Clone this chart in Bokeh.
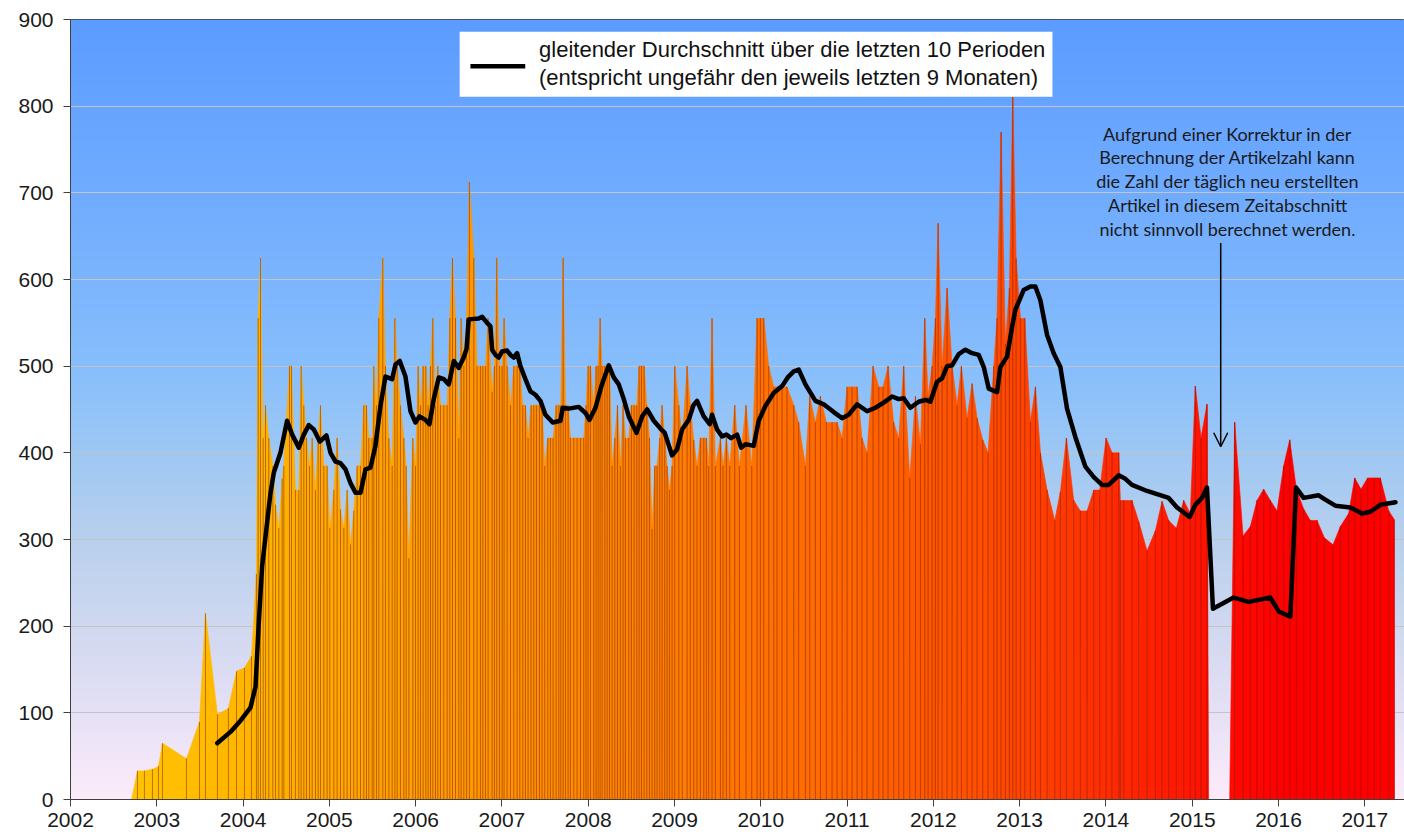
import numpy as np
from bokeh.plotting import figure
from bokeh.models import ColumnDataSource, FixedTicker, Arrow, OpenHead
from bokeh.core.properties import value
from bokeh.embed import file_html
from bokeh.resources import INLINE

# ---------------- data ----------------
# dates as decimal years, values = new articles per day
dates = [
    2002.707, 2002.776, 2002.857, 2002.950, 2003.020, 2003.066, 2003.344, 2003.495, 2003.564, 2003.703,
    2003.830, 2003.924, 2004.016, 2004.097, 2004.155,
    2004.175, 2004.202, 2004.233, 2004.260, 2004.298, 2004.345, 2004.376, 2004.414, 2004.453, 2004.472,
    2004.538, 2004.561, 2004.607, 2004.646, 2004.673, 2004.704, 2004.735, 2004.770, 2004.801, 2004.839,
    2004.870, 2004.897, 2004.936, 2004.974, 2005.005, 2005.052, 2005.090, 2005.129, 2005.168, 2005.206,
    2005.245, 2005.283, 2005.322, 2005.361, 2005.399, 2005.430, 2005.457, 2005.496, 2005.515, 2005.546,
    2005.573, 2005.619, 2005.650, 2005.689, 2005.728, 2005.759, 2005.786, 2005.824, 2005.863, 2005.890,
    2005.921, 2005.967, 2005.998, 2006.029, 2006.056, 2006.087, 2006.118, 2006.145, 2006.172, 2006.199,
    2006.230, 2006.257, 2006.288, 2006.326, 2006.365, 2006.396, 2006.427, 2006.462, 2006.500, 2006.527,
    2006.558, 2006.590,
    2006.623, 2006.674, 2006.712, 2006.751, 2006.778, 2006.809, 2006.840, 2006.886, 2006.913, 2006.940,
    2006.971, 2007.002, 2007.025, 2007.060, 2007.099, 2007.137, 2007.176, 2007.207, 2007.241, 2007.272,
    2007.303, 2007.338, 2007.369, 2007.400, 2007.435, 2007.465, 2007.496, 2007.531, 2007.562, 2007.593,
    2007.628, 2007.659, 2007.682, 2007.709, 2007.736, 2007.767, 2007.794, 2007.833, 2007.871, 2007.910,
    2007.948, 2007.975, 2007.999, 2008.026, 2008.064, 2008.091, 2008.115, 2008.138, 2008.161, 2008.192,
    2008.219, 2008.246, 2008.277, 2008.308, 2008.339, 2008.373, 2008.404, 2008.431, 2008.470, 2008.501,
    2008.532, 2008.563, 2008.590, 2008.617, 2008.648, 2008.679, 2008.709, 2008.740, 2008.771, 2008.798,
    2008.829, 2008.856, 2008.887, 2008.914, 2008.941, 2008.972, 2009.003, 2009.050, 2009.090, 2009.146,
    2009.184, 2009.223, 2009.261, 2009.300, 2009.339, 2009.369, 2009.396, 2009.435, 2009.474, 2009.532,
    2009.563, 2009.601, 2009.640, 2009.698, 2009.752, 2009.829, 2009.895, 2009.957, 2009.995, 2010.034,
    2010.092, 2010.150, 2010.188, 2010.246, 2010.304, 2010.382, 2010.439, 2010.517, 2010.567, 2010.633,
    2010.691, 2010.760, 2010.826, 2010.884, 2010.942, 2011.000, 2011.058, 2011.116, 2011.173, 2011.231,
    2011.301, 2011.367, 2011.417, 2011.475, 2011.540, 2011.598, 2011.656, 2011.726, 2011.792,
    2011.850, 2011.900, 2011.939, 2011.985, 2012.024, 2012.055, 2012.101, 2012.159, 2012.217, 2012.275,
    2012.325, 2012.391, 2012.449, 2012.507, 2012.572, 2012.634, 2012.700, 2012.738, 2012.785, 2012.835,
    2012.881, 2012.920, 2012.959, 2013.009, 2013.059, 2013.125, 2013.183, 2013.241, 2013.318, 2013.407,
    2013.472, 2013.542, 2013.627, 2013.704, 2013.781, 2013.859, 2013.928, 2014.002, 2014.071, 2014.148,
    2014.167, 2014.206, 2014.302, 2014.379, 2014.476, 2014.573, 2014.650, 2014.727, 2014.816, 2014.901,
    2014.978, 2015.036, 2015.102, 2015.171, 2015.190, 2015.434, 2015.492, 2015.589, 2015.674, 2015.751,
    2015.828, 2015.905, 2015.983, 2016.060, 2016.130, 2016.207, 2016.292, 2016.369, 2016.446, 2016.531,
    2016.632, 2016.717, 2016.813, 2016.883, 2016.956, 2017.033, 2017.111, 2017.180, 2017.277, 2017.342,
]
values = [
    0, 33, 33, 35, 38, 65, 47, 90, 215, 98,
    105, 148, 152, 165, 260,
    555, 625, 417, 455, 417, 385, 340, 313, 370, 385,
    500, 500, 357, 357, 500, 455, 417, 385, 417, 357,
    417, 455, 385, 385, 313, 357, 417, 335, 313, 357,
    294, 333, 385, 385, 455, 455, 417, 417, 500, 455,
    555, 625, 500, 417, 385, 555, 500, 455, 417, 385,
    278, 417, 385, 500, 455, 500, 500, 455, 500, 555,
    455, 500, 455, 455, 455, 555, 625, 555, 417, 555,
    500, 555,
    713, 625, 500, 500, 500, 500, 555, 470, 500, 625,
    500, 500, 555, 500, 455, 500, 500, 500, 455, 455,
    417, 455, 455, 455, 455, 455, 385, 417, 417, 417,
    455, 455, 455, 625, 455, 455, 417, 417, 417, 417,
    417, 455, 500, 500, 455, 500, 500, 555, 500, 500,
    500, 500, 385, 417, 455, 385, 455, 417, 417, 455,
    455, 455, 500, 500, 500, 455, 417, 312, 385, 385,
    417, 455, 417, 385, 357, 385, 500, 455, 417, 500,
    455, 415, 385, 417, 417, 417, 385, 555, 385, 417,
    385, 417, 385, 455, 385, 455, 385, 555, 555, 555,
    500, 476, 476, 476, 476, 455, 435, 385, 465, 435,
    465, 435, 435, 435, 417, 476, 476, 476, 417, 400,
    500, 476, 476, 500, 435, 417, 500, 371, 465,
    410, 555, 465, 500, 555, 665, 500, 590, 500, 455,
    500, 440, 480, 440, 415, 400, 500, 555, 770, 526,
    590, 811, 624, 555, 555, 436, 476, 400, 357, 322,
    355, 417, 345, 333, 333, 357, 357, 417, 400, 400,
    345, 345, 345, 321, 287, 310, 344, 322, 313, 345,
    330, 477, 417, 456, 0, 0, 435, 304, 315, 345,
    358, 345, 333, 385, 415, 358, 335, 322, 322, 302,
    294, 315, 330, 371, 358, 371, 371, 371, 333, 323,
]

# moving average over the last 10 periods
ma_dates = [
    2003.700, 2003.854, 2003.970, 2004.086, 2004.144, 2004.180, 2004.221, 2004.317, 2004.356, 2004.433,
    2004.510, 2004.569, 2004.646, 2004.704, 2004.762, 2004.820, 2004.889, 2004.966, 2005.013, 2005.071,
    2005.129, 2005.187, 2005.245, 2005.303, 2005.361, 2005.419, 2005.477, 2005.534, 2005.592, 2005.650,
    2005.727, 2005.766, 2005.816, 2005.882, 2005.940, 2005.998, 2006.044, 2006.114, 2006.160, 2006.210,
    2006.268, 2006.326, 2006.384, 2006.442, 2006.500, 2006.557, 2006.590, 2006.615, 2006.731, 2006.770,
    2006.828, 2006.867, 2006.886, 2006.925, 2006.963, 2007.002, 2007.060, 2007.099, 2007.137, 2007.176,
    2007.214, 2007.272, 2007.330, 2007.388, 2007.446, 2007.504, 2007.589, 2007.678, 2007.705, 2007.774,
    2007.890, 2007.968, 2008.014, 2008.084, 2008.153, 2008.238, 2008.296, 2008.354, 2008.412, 2008.470,
    2008.559, 2008.625, 2008.683, 2008.760, 2008.837, 2008.887, 2008.972, 2009.030, 2009.088, 2009.165,
    2009.220, 2009.261, 2009.339, 2009.408, 2009.435, 2009.493, 2009.551, 2009.601, 2009.656, 2009.725,
    2009.772, 2009.822, 2009.918, 2009.976, 2010.053, 2010.150, 2010.247, 2010.312, 2010.382, 2010.440,
    2010.517, 2010.633, 2010.729, 2010.845, 2010.942, 2011.019, 2011.116, 2011.232, 2011.328, 2011.424,
    2011.521, 2011.598, 2011.656, 2011.733, 2011.830, 2011.907, 2011.965, 2012.043, 2012.101, 2012.159,
    2012.217, 2012.294, 2012.371, 2012.449, 2012.526, 2012.584, 2012.642, 2012.738, 2012.777, 2012.854,
    2012.912, 2012.950, 2013.047, 2013.124, 2013.182, 2013.240, 2013.318, 2013.394, 2013.472, 2013.549,
    2013.646, 2013.762, 2013.859, 2013.955, 2014.032, 2014.148, 2014.225, 2014.302, 2014.476, 2014.727,
    2014.824, 2014.970, 2015.036, 2015.113, 2015.171, 2015.240, 2015.480, 2015.654, 2015.905, 2016.002,
    2016.137, 2016.203, 2016.291, 2016.465, 2016.542, 2016.658, 2016.832, 2016.968, 2017.064, 2017.180,
    2017.355,
]
ma_values = [
    65, 78, 91, 106, 130, 200, 269, 353, 377, 400,
    437, 421, 406, 421, 432, 427, 413, 420, 400, 390,
    388, 381, 365, 354, 354, 381, 383, 408, 454, 488,
    485, 502, 506, 488, 448, 435, 442, 438, 433, 462,
    487, 485, 479, 506, 498, 510, 520, 554, 555, 557,
    550, 546, 519, 513, 510, 517, 518, 513, 510, 515,
    500, 485, 471, 467, 460, 444, 435, 437, 452, 451,
    453, 446, 438, 452, 477, 501, 487, 479, 462, 442,
    423, 442, 450, 437, 428, 423, 397, 404, 427, 438,
    455, 460, 442, 433, 444, 427, 419, 421, 417, 421,
    406, 410, 408, 437, 454, 469, 477, 487, 494, 496,
    479, 460, 456, 447, 440, 444, 456, 448, 452, 458,
    465, 462, 463, 452, 459, 461, 459, 482, 486, 500,
    501, 514, 519, 515, 513, 499, 474, 470, 499, 511,
    545, 565, 588, 592, 592, 576, 536, 515, 499, 451,
    418, 384, 372, 363, 363, 374, 370, 363, 356, 348,
    337, 326, 340, 348, 360, 220, 233, 228, 233, 217,
    211, 360, 348, 351, 346, 339, 337, 330, 332, 340,
    343,
]

x_ticks = list(range(2002, 2018))
y_ticks = list(range(0, 901, 100))

legend_lines = ["gleitender Durchschnitt über die letzten 10 Perioden",
                "(entspricht ungefähr den jeweils letzten 9 Monaten)"]
note_lines = ["Aufgrund einer Korrektur in der",
              "Berechnung der Artikelzahl kann",
              "die Zahl der täglich neu erstellten",
              "Artikel in diesem Zeitabschnitt",
              "nicht sinnvoll berechnet werden."]

# ---------------- styling constants ----------------
X0, X1 = 2002.0, 2017.46
Y0, Y1 = 0, 900
bg_v = [0, 100, 200, 300, 400, 500, 700, 900]
bg_r = [253, 230, 208, 185, 158, 135, 112, 92]
bg_g = [236, 225, 216, 208, 200, 190, 172, 156]
bg_b = [250, 246, 240, 238, 244, 252, 255, 255]
fill_x = [2002.7, 2004.2, 2005.0, 2007.0, 2009.0, 2011.0, 2012.5, 2014.0, 2015.5, 2016.0]
fill_g = [195, 180, 168, 148, 126, 102, 80, 45, 10, 0]

p = figure(width=1404, height=836, x_range=(X0, X1), y_range=(Y0, Y1),
           output_backend="svg", toolbar_location=None,
           min_border_left=70, min_border_right=0, min_border_top=19, min_border_bottom=37)

# background gradient
ny = 900
yy = np.linspace(Y0, Y1, ny)
img = np.zeros((ny, 1), dtype=np.uint32)
view = img.view(dtype=np.uint8).reshape((ny, 1, 4))
view[:, 0, 0] = np.interp(yy, bg_v, bg_r).astype(np.uint8)
view[:, 0, 1] = np.interp(yy, bg_v, bg_g).astype(np.uint8)
view[:, 0, 2] = np.interp(yy, bg_v, bg_b).astype(np.uint8)
view[:, 0, 3] = 255
p.image_rgba(image=[img], x=X0, y=Y0, dw=X1 - X0, dh=Y1 - Y0, level="image")

# area, coloured along time
xs, ys, cols = [], [], []
for i in range(len(dates) - 1):
    xa, xb = dates[i], dates[i + 1]
    xs.append([xa, xa, xb, xb])
    ys.append([0, values[i], values[i + 1], 0])
    g = int(round(float(np.interp(0.5 * (xa + xb), fill_x, fill_g))))
    cols.append("#%02x%02x%02x" % (255, g, 0))
p.patches(xs, ys, fill_color=cols, line_color=cols, line_width=0.6)

# dotted drop lines at every data point
p.segment(x0=dates, y0=[0] * len(dates), x1=dates, y1=values,
          line_color="#701200", line_alpha=0.9, line_width=1, line_dash="1 1")

# moving average
p.line(ma_dates, ma_values, line_color="black", line_width=4.5,
       line_join="round", line_cap="round")

# legend box (manual)
p.quad(left=[2006.51], right=[2013.38], bottom=[811], top=[886],
       fill_color="white", line_color=None)
p.line([2006.635, 2007.27], [846, 846], line_color="black", line_width=4.5)
leg_src = ColumnDataSource(dict(x=[2007.43, 2007.43], y=[865, 833], t=legend_lines))
p.text(x="x", y="y", text="t", source=leg_src, text_font=value("Liberation Sans"),
       text_font_size="22px", text_baseline="middle", text_align="left", text_color="#111111")

# note text and arrow
note_y0, note_dy = 768.4, 27.4
note_src = ColumnDataSource(dict(x=[2015.41] * len(note_lines),
                                 y=[note_y0 - i * note_dy for i in range(len(note_lines))],
                                 t=note_lines))
p.text(x="x", y="y", text="t", source=note_src, text_font=value("Lato"),
       text_font_size="18px", text_baseline="middle", text_align="center", text_color="#1a1a1a")
p.add_layout(Arrow(end=OpenHead(size=14, line_width=1.5, line_color="black"),
                   x_start=2015.33, y_start=642, x_end=2015.33, y_end=407,
                   line_width=1.5, line_color="black"))

# axes & grid
p.xgrid.visible = False
p.ygrid.grid_line_color = "#c4c4c4"
p.ygrid.grid_line_width = 1
p.xaxis.ticker = FixedTicker(ticks=x_ticks)
p.yaxis.ticker = FixedTicker(ticks=y_ticks)
p.ygrid.ticker = FixedTicker(ticks=y_ticks)
p.axis.major_label_text_font = "Liberation Sans"
p.axis.major_label_text_font_size = "21px"
p.axis.major_label_text_color = "#1a1a1a"
p.axis.axis_line_color = "#404040"
p.axis.major_tick_line_color = "#404040"
p.axis.major_tick_out = 7
p.axis.major_tick_in = 0
p.axis.minor_tick_out = 0
p.axis.minor_tick_in = 0
p.yaxis.major_label_standoff = 10
p.xaxis.major_label_standoff = 6
p.outline_line_color = "#404040"
p.background_fill_color = "#fde9f8"
p.border_fill_color = "white"

open("out.html", "w").write(file_html(p, INLINE))
